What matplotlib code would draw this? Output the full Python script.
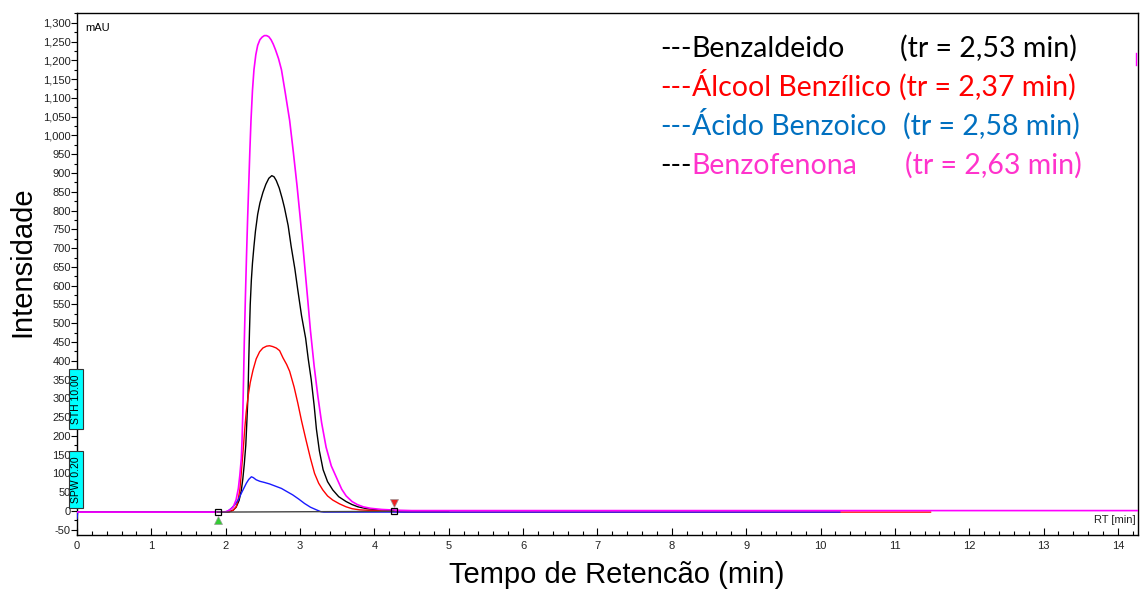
import matplotlib
matplotlib.use("Agg")
import matplotlib.pyplot as plt
from matplotlib.patches import Rectangle
from matplotlib.ticker import MultipleLocator, FuncFormatter

# Chromatogram traces (RT in min, signal in mAU)
rt_benzofenona = [0, 1.90, 2.00, 2.05, 2.10, 2.14, 2.17, 2.19, 2.21, 2.22, 2.23, 2.24, 2.25,
                  2.265, 2.28, 2.295, 2.31, 2.325, 2.34, 2.36, 2.38, 2.405, 2.43, 2.46, 2.49,
                  2.52, 2.55, 2.58, 2.61, 2.64, 2.67, 2.71, 2.75, 2.80, 2.86, 2.91, 2.96,
                  3.00, 3.05, 3.10, 3.14, 3.19, 3.24, 3.29, 3.35, 3.42, 3.51, 3.56, 3.62,
                  3.70, 3.77, 3.85, 3.95, 4.10, 4.30, 4.50, 14.27]
mau_benzofenona = [-3, -3, -2, 2, 10, 30, 60, 95, 140, 190, 260, 350, 450,
                   570, 680, 780, 870, 960, 1040, 1120, 1175, 1215, 1240, 1255, 1262,
                   1266, 1266, 1263, 1255, 1243, 1228, 1205, 1175, 1115, 1040, 955, 865,
                   785, 680, 570, 480, 385, 305, 235, 170, 120, 80, 58, 40,
                   25, 17, 11, 7, 4, 2, 1, 1]

rt_benzaldeido = [0, 1.90, 2.00, 2.05, 2.10, 2.14, 2.18, 2.21, 2.23, 2.25, 2.27, 2.285, 2.30,
                  2.31, 2.32, 2.33, 2.345, 2.36, 2.38, 2.40, 2.43, 2.46, 2.50, 2.54, 2.58,
                  2.62, 2.65, 2.68, 2.72, 2.76, 2.79, 2.84, 2.88, 2.93, 2.97, 3.02, 3.075,
                  3.11, 3.15, 3.19, 3.22, 3.26, 3.31, 3.37, 3.44, 3.52, 3.62, 3.70, 3.78,
                  3.90, 4.05, 4.30, 4.50, 5.00]
mau_benzaldeido = [-3, -3, -3, -2, 2, 10, 28, 55, 85, 125, 175, 240, 310,
                   400, 480, 550, 615, 660, 705, 745, 790, 820, 848, 870, 886,
                   893, 890, 880, 860, 832, 808, 760, 705, 645, 588, 520, 460,
                   405, 350, 280, 218, 160, 110, 78, 56, 38, 25, 17, 11,
                   6, 3, 1, 0, 0]

rt_alcool = [0, 1.90, 2.00, 2.05, 2.10, 2.14, 2.165, 2.19, 2.205, 2.22, 2.24, 2.255, 2.275,
             2.30, 2.33, 2.367, 2.41, 2.456, 2.50, 2.55, 2.59, 2.63, 2.68, 2.725, 2.77,
             2.82, 2.86, 2.92, 2.97, 3.02, 3.08, 3.14, 3.195, 3.25, 3.306, 3.37, 3.44,
             3.53, 3.62, 3.70, 3.80, 4.00, 4.30, 4.40, 11.48]
mau_alcool = [-3, -3, -3, -2, 2, 11, 28, 56, 90, 127, 175, 216, 262,
              304, 342, 375, 405, 424, 434, 439, 440, 438, 434, 427, 408,
              390, 372, 330, 287, 240, 189, 140, 100, 74, 56, 40, 29,
              19, 11, 6, 3, 1, -2, -3, -3]

rt_acido = [0, 0.01, 1.90, 2.00, 2.03, 2.07, 2.12, 2.17, 2.21, 2.25, 2.278, 2.31, 2.345,
            2.37, 2.41, 2.46, 2.52, 2.59, 2.67, 2.75, 2.82, 2.90, 2.98, 3.06, 3.14,
            3.22, 3.28, 3.32, 10.26]
mau_acido = [-20, -3, -3, -3, 0, 6, 16, 30, 47, 63, 74, 84, 91,
             89, 83, 79, 76, 72, 66, 60, 52, 43, 32, 20, 10,
             3, -2, -3, -3]

# integration window (start / end markers)
peak_window_rt = [1.89, 4.26]
peak_window_mau = [-3, -1]

legend_names = ["Benzaldeido", "Álcool Benzílico", "Ácido Benzoico", "Benzofenona"]
legend_tr = ["2,53", "2,37", "2,58", "2,63"]
legend_colors = ["#000000", "#ff0000", "#0070c0", "#ff33cc"]
dash_colors = ["#000000", "#ff0000", "#0070c0", "#000000"]
name_x = [660, 660, 660, 660]
tr_x = [900, 899, 903, 905]
row_y = [57, 96, 135, 174]

W, H = 1141, 590
fig = plt.figure(figsize=(W / 100, H / 100), dpi=100)


def fx(px):
    return px / W


def fy(py):
    return 1 - py / H


ax = fig.add_axes([fx(77), fy(535), fx(1138) - fx(77), fy(12.7) - fy(535)])
ax.set_xlim(0, 14.27)
ax.set_ylim(-64, 1327)

lw = 1.0
ax.plot(rt_benzaldeido, mau_benzaldeido, color="black", lw=lw, zorder=3)
ax.plot(rt_alcool, mau_alcool, color="#ff0000", lw=lw, zorder=4)
ax.plot(rt_acido, mau_acido, color="#1a1aff", lw=lw, zorder=5)
ax.plot(rt_benzofenona, mau_benzofenona, color="#ff00ff", lw=1.2, zorder=6)

# baseline between markers
ax.plot(peak_window_rt, peak_window_mau, color="#444444", lw=1.0, zorder=7)
ax.plot(peak_window_rt, peak_window_mau, ls="none", marker="s", ms=5,
        mfc="none", mec="black", mew=0.9, zorder=8)
ax.plot(peak_window_rt[0], -24, marker="^", ms=6, color="#33cc33",
        mec="#999999", mew=0.5, zorder=8)
ax.plot(peak_window_rt[1], 22, marker="v", ms=6, color="#ee2222",
        mec="#999999", mew=0.5, zorder=8)

# axis styling
ax.set_yticks(range(-50, 1301, 50))
ax.yaxis.set_minor_locator(MultipleLocator(25))
ax.yaxis.set_major_formatter(FuncFormatter(lambda v, p: f"{v:,.0f}"))
ax.xaxis.set_major_locator(MultipleLocator(1))
ax.xaxis.set_minor_locator(MultipleLocator(0.2))
ax.tick_params(axis="y", which="major", direction="out", length=4, width=0.8,
               pad=0.5, labelsize=8, labelcolor="#222222")
ax.tick_params(axis="y", which="minor", direction="out", length=2, width=0.8)
ax.tick_params(axis="x", which="major", direction="in", length=5, width=0.8,
               pad=4, labelsize=8, labelcolor="#222222")
ax.tick_params(axis="x", which="minor", direction="in", length=3, width=0.8)
for sp in ax.spines.values():
    sp.set_linewidth(1.0)
for lab in ax.get_xticklabels() + ax.get_yticklabels():
    lab.set_family("Liberation Sans")

ax.text(0.11, 1285, "mAU", fontsize=8, family="Liberation Sans", va="center")
ax.text(14.24, -25, "RT [min]", fontsize=8, family="Liberation Sans",
        ha="right", va="center", color="#222222")

# axis titles
fig.text(fx(22), fy(262), "Intensidade", rotation=90, fontsize=21,
         family="Liberation Sans", ha="center", va="center")
fig.text(fx(617), fy(583), "Tempo de Retencão (min)", fontsize=21,
         family="Liberation Sans", ha="center", va="baseline")

# parameter flags on the y axis
for top, bot, label in [(369, 429, "STH 10.00"), (451, 508, "SPW 0.20")]:
    rect = Rectangle((fx(69.3), fy(bot)), fx(83.3) - fx(69.3), fy(top) - fy(bot),
                     transform=fig.transFigure, facecolor="#00ffff",
                     edgecolor="#333333", lw=0.8, zorder=10)
    fig.patches.append(rect)
    fig.text(fx(76.3), fy((top + bot) / 2), label, rotation=90, fontsize=7.5,
             family="Liberation Sans", ha="center", va="center", zorder=11)

# compound legend
legend_size = 20.5
for i in range(4):
    t = fig.text(fx(name_x[i]), fy(row_y[i]), "---", fontsize=legend_size, family="Lato",
                 color=dash_colors[i], va="baseline")
    fig.canvas.draw()
    bb = t.get_window_extent()
    fig.text(bb.x1 / W, fy(row_y[i]), legend_names[i], fontsize=legend_size, family="Lato",
             color=legend_colors[i], va="baseline")
    fig.text(fx(tr_x[i]), fy(row_y[i]), f"(tr = {legend_tr[i]} min)", fontsize=legend_size,
             family="Lato", color=legend_colors[i], va="baseline")

fig.add_artist(plt.Line2D([fx(1135.5), fx(1135.5)], [fy(53), fy(65)],
                          color="#ff00ff", lw=1.0))

fig.savefig("out.png", dpi=100)
